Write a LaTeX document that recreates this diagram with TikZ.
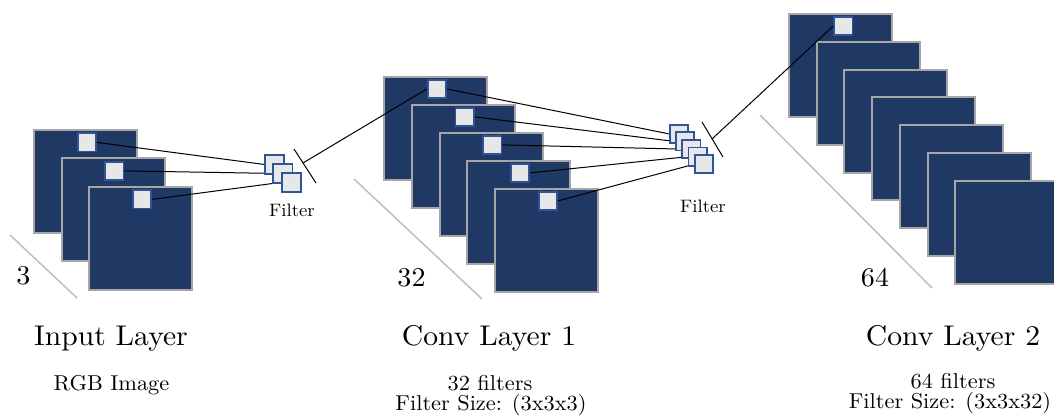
\documentclass[tikz,border=0pt]{standalone}
\usepackage{fontspec}
\setmainfont{lmroman10-regular.otf}[FakeStretch=1.04]
\definecolor{mapfill}{HTML}{1F3864}
\definecolor{mapedge}{HTML}{A6A6A6}
\definecolor{patchfill}{HTML}{E7E7E7}
\definecolor{patchedge}{HTML}{2F5597}
\definecolor{guide}{HTML}{BFBFBF}
\pgfdeclarelayer{front}
\pgfsetlayers{main,front}
\tikzset{
  fmap/.style={draw=mapedge, fill=mapfill, line width=2pt, minimum size=103pt,
    inner sep=0pt, anchor=north west},
  patch/.style={draw=patchedge, fill=patchfill, line width=1.8pt, minimum size=18.2pt,
    inner sep=0pt, anchor=north west},
  kernel/.style={patch, minimum size=19.2pt},
  link/.style={black, line width=1pt},
  depth/.style={guide, line width=1.5pt},
  title/.style={anchor=base, inner sep=0pt, font=\fontsize{28.5}{34}\selectfont},
  note/.style={anchor=base, inner sep=0pt, font=\fontsize{21.5}{26}\selectfont},
  count/.style={anchor=base, inner sep=0pt, font=\fontsize{27}{32}\selectfont},
  flabel/.style={anchor=base, inner sep=0pt, font=\fontsize{18}{22}\selectfont},
}
\begin{document}
\begin{tikzpicture}[x=1pt,y=-1pt]
\useasboundingbox (0,0) rectangle (1054,419);

% input layer: three channels
\foreach \i in {0,1,2} {
  \node[fmap] (in\i) at ({33+27.5*\i},{129+28.5*\i}) {};
  \node[patch] (ip\i) at ({76.9+27.5*\i},{132.4+28.5*\i}) {};
}

% first convolution layer: five maps shown
\foreach \i in {0,...,4} {
  \node[fmap] (ca\i) at ({383+27.75*\i},{76+28*\i}) {};
  \node[patch] (cp\i) at ({426.9+27.75*\i},{78.9+28*\i}) {};
}

% second convolution layer: seven maps shown
\foreach \i in {0,...,6} {
  \node[fmap] (cb\i) at ({788+27.7*\i},{13+27.8*\i}) {};
}
\node[patch] (dp) at (833.4,15.9) {};

% filter stacks
\begin{pgfonlayer}{front}
  \foreach \j in {0,1,2} {
    \node[kernel] (fa\j) at ({263.9+8.5*\j},{153.9+9*\j}) {};
  }
  \foreach \j in {0,...,4} {
    \node[patch] (fb\j) at ({668.9+6.25*\j},{123.9+7.6*\j}) {};
  }
\end{pgfonlayer}

% patches feeding the filters
\foreach \i in {0,1,2} \draw[link] (ip\i.east) -- (fa\i.west);
\foreach \i in {0,...,4} \draw[link] (cp\i.east) -- (fb\i.west);

% filter outputs
\coordinate (sa1) at (294,149);
\coordinate (sa2) at (316,183);
\coordinate (sa) at (303,163);
\draw[link] (sa1) -- (sa2);
\draw[link] (sa) -- (cp0.west);

\coordinate (sb1) at (702,122);
\coordinate (sb2) at (723,157);
\coordinate (sb) at (712,139);
\draw[link] (sb1) -- (sb2);
\draw[link] (sb) -- (dp.west);

% depth guides
\draw[depth] (10,235) -- (77,298);
\draw[depth] (354,179) -- (482,299);
\draw[depth] (760,115) -- (932,288);

% depth counts
\node[count] (n3) at (23.5,285) {3};
\node[count] (n32) at (411.5,287) {32};
\node[count] (n64) at (875,287) {64};

% filter captions
\node[flabel] (fl1) at (292,217) {Filter};
\node[flabel] (fl2) at (703,213) {Filter};

% layer titles and notes
\node[title] (t1) at (111,345) {Input Layer};
\node[title] (t2) at (489,345) {Conv Layer 1};
\node[title] (t3) at (953,345) {Conv Layer 2};
\node[note] (s1) at (111.5,390) {RGB Image};
\node[note] (s2) at (490,390) {32 filters};
\node[note] (s3) at (491,410) {Filter Size: (3x3x3)};
\node[note] (s4) at (953,388) {64 filters};
\node[note] (s5) at (950,408) {Filter Size: (3x3x32)};
\end{tikzpicture}
\end{document}
